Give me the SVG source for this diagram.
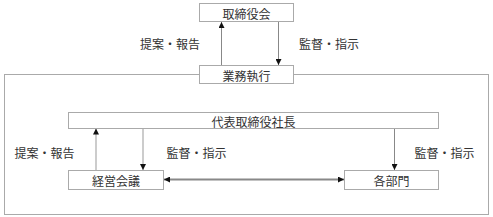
<svg xmlns="http://www.w3.org/2000/svg" width="493" height="217" viewBox="0 0 493 217">
<defs>
<style>
.box{fill:#fff;stroke:#aaa;stroke-width:1}
.frame{fill:none;stroke:#aaa;stroke-width:1}
.t{font-family:"Noto Sans CJK JP","Liberation Sans",sans-serif;font-size:12px;fill:#333;text-anchor:middle;dominant-baseline:central}
.ln{stroke:#888;stroke-width:1;fill:none}
.ln2{stroke:#bbb;stroke-width:1.5;fill:none}
.hl{stroke:#888;stroke-width:2;fill:none}
</style>
<marker id="ah" viewBox="0 0 6 6" refX="6" refY="3" markerWidth="6" markerHeight="6" markerUnits="userSpaceOnUse" orient="auto-start-reverse">
<path d="M0,0 L6,3 L0,6 Z" fill="#111"/>
</marker>
</defs>
<rect class="frame" x="4.5" y="74.5" width="484" height="140"/>
<g id="connectors">
<line class="ln" x1="221.5" y1="65" x2="221.5" y2="22" marker-end="url(#ah)"/>
<line class="ln" x1="278.5" y1="21" x2="278.5" y2="65" marker-end="url(#ah)"/>
<line class="ln2" x1="96" y1="170" x2="96" y2="128.5" marker-end="url(#ah)"/>
<line class="ln2" x1="143" y1="128" x2="143" y2="170" marker-end="url(#ah)"/>
<line class="ln" x1="394.5" y1="128" x2="394.5" y2="170" marker-end="url(#ah)"/>
<line class="hl" x1="164" y1="179.5" x2="344" y2="179.5" marker-start="url(#ah)" marker-end="url(#ah)"/>
<text class="t" x="170" y="43">提案・報告</text>
<text class="t" x="329" y="43">監督・指示</text>
<text class="t" x="44.5" y="152">提案・報告</text>
<text class="t" x="196.5" y="152">監督・指示</text>
<text class="t" x="444.5" y="152">監督・指示</text>
</g>
<g id="n1"><rect class="box" x="199.5" y="3.5" width="94" height="18"/><text class="t" x="246.5" y="13">取締役会</text></g>
<g id="n2"><rect class="box" x="199.5" y="65.5" width="94" height="18"/><text class="t" x="246.5" y="75">業務執行</text></g>
<g id="n3"><rect class="box" x="68.5" y="112.5" width="370" height="16"/><text class="t" x="253.5" y="121">代表取締役社長</text></g>
<g id="n4"><rect class="box" x="68.5" y="170.5" width="95" height="19"/><text class="t" x="116" y="180">経営会議</text></g>
<g id="n5"><rect class="box" x="344.5" y="170.5" width="94" height="19"/><text class="t" x="391.5" y="180">各部門</text></g>
</svg>
